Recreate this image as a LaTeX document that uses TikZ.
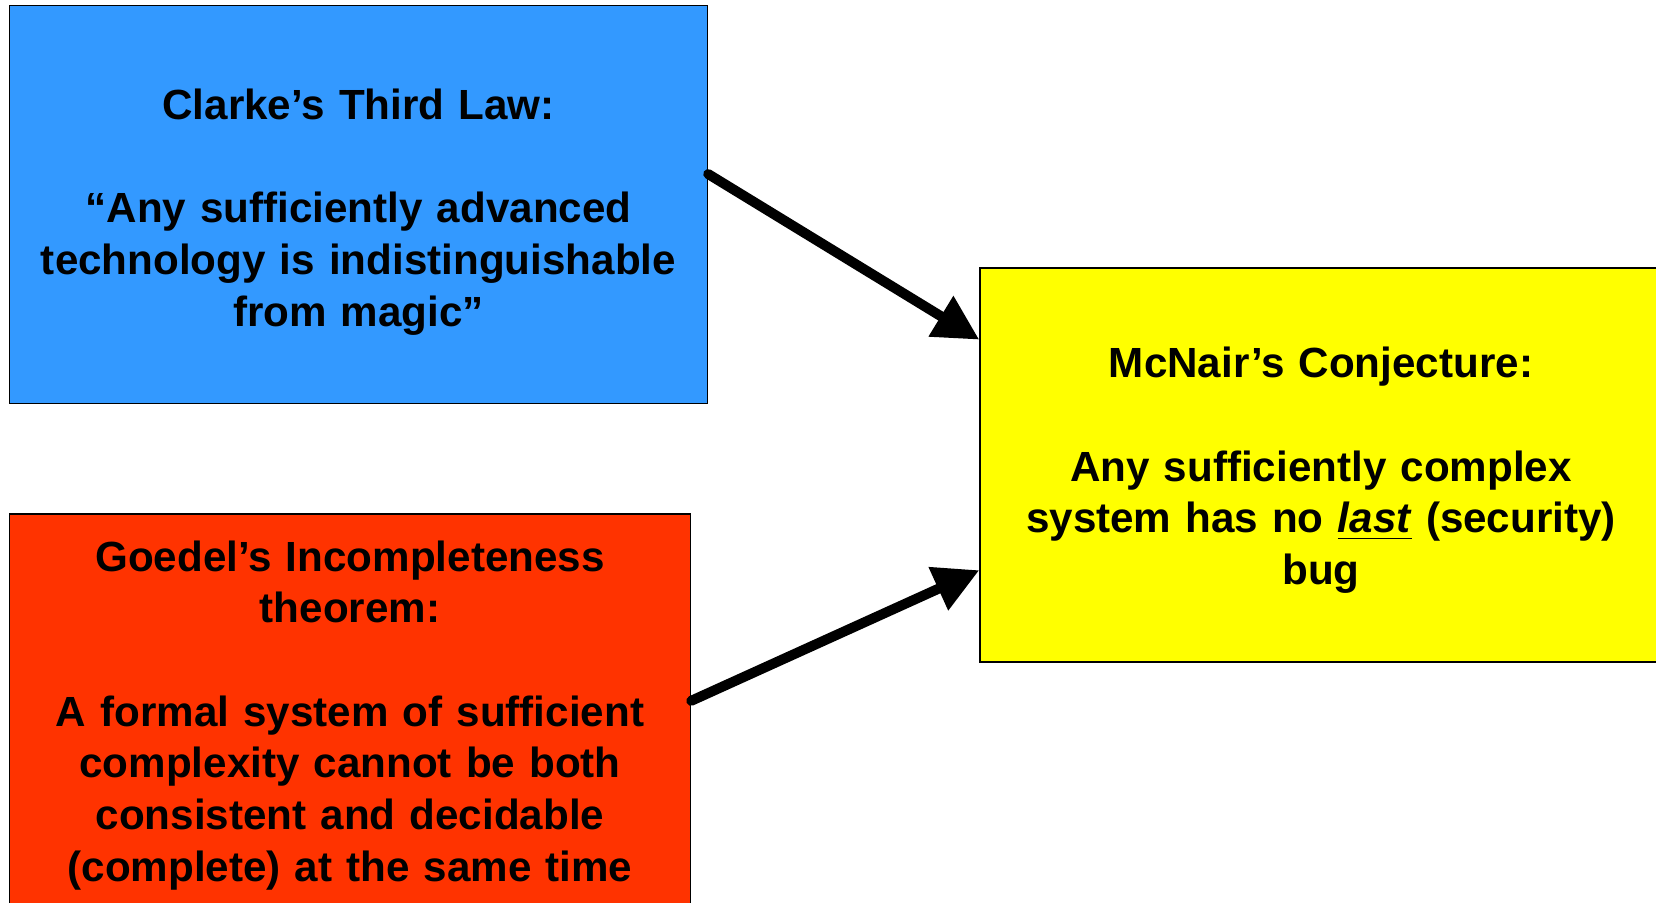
\documentclass[tikz,border=0pt]{standalone}
\usepackage{fontspec}
\setmainfont{Liberation Sans}
\usetikzlibrary{arrows.meta}
\usetikzlibrary{calc}
\usetikzlibrary{positioning}
\definecolor{clarkeblue}{HTML}{3399FF}
\definecolor{goedelred}{HTML}{FF3300}
\definecolor{mcnairyellow}{HTML}{FFFF00}

\begin{document}
\begin{tikzpicture}[lawbox/.style={draw=black, line width=0.4pt, inner sep=0pt, align=center, text width=6.6cm, font=\fontsize{12}{14.7}\selectfont\bfseries},
    bigarrow/.style={line width=1mm, line cap=round, -{Triangle[length=4.5mm,width=4.5mm]}}]
    \useasboundingbox (0,0) rectangle (16.56,9.02);
    \node [lawbox, fill=clarkeblue, minimum width=6.98cm, minimum height=3.98cm] (clarke) at (3.585,6.976) {\rule{0pt}{13pt}Clarke’s Third Law:\\~\\“Any sufficiently advanced\\technology is indistinguishable\\from magic”};
    \node [lawbox, fill=goedelred, minimum width=6.81cm, minimum height=3.98cm, below=1.09cm of clarke.south west, anchor=north west] (goedel) {\rule{0pt}{10pt}Goedel’s Incompleteness\\theorem:\\~\\A formal system of sufficient\\complexity cannot be both\\consistent and decidable\\(complete) at the same time};
    \node [lawbox, fill=mcnairyellow, minimum width=6.82cm, minimum height=3.94cm] (mcnair) at (13.21,4.37) {\rule{0pt}{11.8pt}McNair’s Conjecture:\\~\\Any sufficiently complex\\system has no \underline{\textit{last}} (security)\\bug};
    %\draw[->] (clarke) -- (mcnair);
    \draw [bigarrow] ($(clarke.north east)!0.424!(clarke.south east)$) -- ($(mcnair.north west)!0.183!(mcnair.south west)$);
    \draw [bigarrow] ($(goedel.north east)!0.47!(goedel.south east)$) -- ($(mcnair.north west)!0.766!(mcnair.south west)$);
\end{tikzpicture}
\end{document}
